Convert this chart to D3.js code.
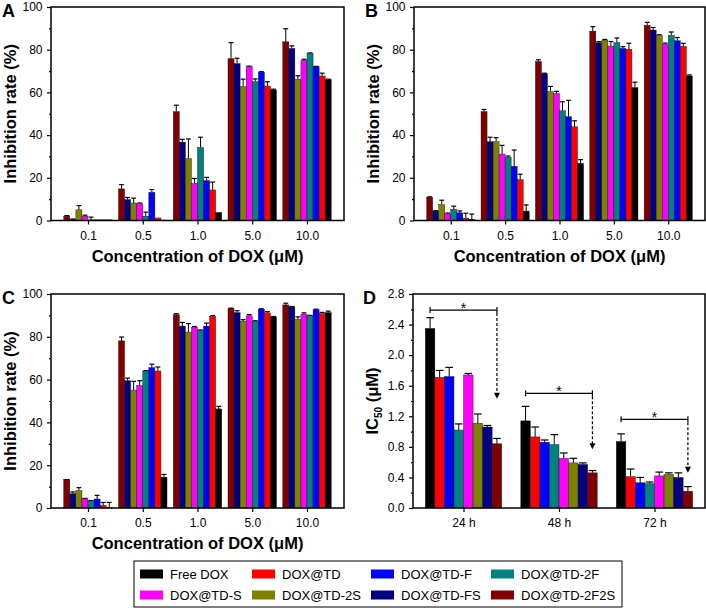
<!DOCTYPE html>
<html>
<head>
<meta charset="utf-8">
<script src="https://cdn.jsdelivr.net/npm/d3@7"></script>
<style>
  body { margin: 0; background: #fff; }
  svg { font-family: Arial, 'Liberation Sans', sans-serif; }
</style>
</head>
<body>
<div id="chart"></div>
<script>
// categories / series
const concentrations = ['0.1', '0.5', '1.0', '5.0', '10.0'];
const timePoints = ['24 h', '48 h', '72 h'];
const seriesNames = ['Free DOX', 'DOX@TD', 'DOX@TD-F', 'DOX@TD-2F', 'DOX@TD-S', 'DOX@TD-2S', 'DOX@TD-FS', 'DOX@TD-2F2S'];
// bar order used in panels A-C (reversed)
const inhibitionOrder = ['DOX@TD-2F2S', 'DOX@TD-FS', 'DOX@TD-2S', 'DOX@TD-S', 'DOX@TD-2F', 'DOX@TD-F', 'DOX@TD', 'Free DOX'];

// panel A, rows follow inhibitionOrder, columns follow concentrations
const inhibitionA = [
  [2.0, 14.8, 51.0, 75.8, 83.7],
  [0.5, 9.8, 36.7, 73.5, 80.6],
  [5.0, 8.2, 29.0, 62.7, 66.2],
  [2.0, 7.9, 17.4, 72.0, 75.0],
  [0.3, 2.0, 34.2, 65.0, 78.3],
  [0.3, 13.2, 18.7, 69.5, 72.0],
  [0.3, 1.2, 14.3, 63.0, 67.7],
  [0.3, 0.2, 3.8, 61.2, 66.0]
];
const errorA = [
  [0.3, 2.0, 3.0, 7.5, 6.1],
  [0.2, 1.0, 1.3, 2.5, 1.2],
  [2.0, 2.3, 9.2, 3.5, 1.6],
  [0.5, 0.3, 2.3, 0.3, 0.5],
  [1.3, 1.9, 4.8, 1.3, 0.2],
  [0, 1.3, 1.5, 0.2, 0.2],
  [0, 0, 3.7, 2.0, 1.3],
  [0, 0, 0, 0.3, 0.2]
];

const inhibitionB = [
  [10.9, 51.0, 74.5, 88.7, 91.4],
  [4.4, 36.9, 68.8, 83.3, 89.2],
  [7.5, 36.9, 60.4, 84.5, 86.7],
  [3.1, 31.1, 59.5, 81.7, 82.5],
  [5.3, 29.6, 51.4, 83.3, 86.7],
  [3.6, 25.4, 48.6, 80.6, 84.2],
  [1.1, 19.1, 43.9, 80.2, 81.6],
  [0.6, 4.4, 26.8, 62.3, 67.7]
];
const errorB = [
  [0.2, 1.0, 0.8, 2.1, 1.4],
  [0.2, 2.1, 0.2, 0.5, 1.2],
  [2.0, 1.9, 2.4, 0.3, 0.3],
  [0.4, 4.1, 1.0, 2.1, 0.6],
  [1.4, 0.6, 4.2, 2.2, 1.6],
  [0.9, 7.6, 7.7, 0.8, 1.5],
  [2.3, 2.6, 2.8, 2.8, 1.4],
  [2.4, 2.9, 1.7, 2.5, 0.5]
];

const inhibitionC = [
  [13.2, 78.1, 90.3, 93.2, 94.9],
  [6.7, 59.5, 85.0, 91.3, 94.0],
  [8.1, 55.1, 82.2, 87.3, 88.2],
  [4.3, 57.3, 84.5, 89.8, 90.6],
  [3.3, 64.0, 83.0, 87.3, 89.8],
  [4.2, 65.6, 85.0, 92.9, 92.7],
  [1.2, 64.0, 89.6, 91.2, 90.9],
  [0.3, 14.4, 46.3, 89.3, 91.3]
];
const errorC = [
  [0.1, 1.8, 0.5, 0.2, 0.8],
  [0.8, 1.2, 1.7, 0.9, 0.2],
  [1.4, 4.1, 4.0, 0.7, 1.1],
  [0.2, 2.2, 0.3, 0.6, 0.6],
  [0.2, 0.2, 0.2, 0.2, 0.2],
  [1.7, 1.6, 1.4, 0.2, 0.2],
  [1.4, 1.9, 0.3, 0.6, 0.5],
  [2.3, 1.3, 1.2, 0.2, 0.7]
];

// panel D, rows follow seriesNames, columns follow timePoints
const ic50 = [
  [2.35, 1.14, 0.87],
  [1.71, 0.93, 0.41],
  [1.72, 0.86, 0.33],
  [1.02, 0.83, 0.32],
  [1.74, 0.65, 0.42],
  [1.11, 0.59, 0.44],
  [1.06, 0.57, 0.40],
  [0.84, 0.46, 0.22]
];
const ic50Error = [
  [0.14, 0.19, 0.10],
  [0.09, 0.13, 0.10],
  [0.12, 0.03, 0.07],
  [0.08, 0.13, 0.02],
  [0.02, 0.07, 0.05],
  [0.12, 0.06, 0.02],
  [0.02, 0.02, 0.06],
  [0.07, 0.03, 0.06]
];
const sigBracketY = [2.59, 1.50, 1.16];
const sigArrowY = [1.43, 0.77, 0.46];

const inhibitionTicks = [0, 20, 40, 60, 80, 100];
const ic50Ticks = [0, 0.4, 0.8, 1.2, 1.6, 2.0, 2.4, 2.8];

const colors = {
  'Free DOX': '#000000',
  'DOX@TD': '#ff0000',
  'DOX@TD-F': '#0000ff',
  'DOX@TD-2F': '#008080',
  'DOX@TD-S': '#ff00ff',
  'DOX@TD-2S': '#808000',
  'DOX@TD-FS': '#000080',
  'DOX@TD-2F2S': '#800000'
};

const svg = d3.select('#chart')
  .append('svg')
  .attr('width', 706)
  .attr('height', 608);

function drawFrame(g, x0, y0, x1, y1) {
  g.append('rect')
    .attr('x', x0).attr('y', y0)
    .attr('width', x1 - x0).attr('height', y1 - y0)
    .attr('fill', 'none')
    .attr('stroke', '#000')
    .attr('stroke-width', 1.5);
}

function styleAxis(axisG) {
  axisG.select('.domain').remove();
  axisG.selectAll('line').attr('stroke', '#000').attr('stroke-width', 1.2);
  axisG.selectAll('text').attr('fill', '#000').attr('font-size', 12);
}

function drawYAxis(g, y, left, ticks, minor, fmt) {
  const ax = g.append('g')
    .attr('transform', `translate(${left},0)`)
    .call(d3.axisLeft(y).tickValues(ticks).tickSize(4).tickPadding(4.5).tickFormat(fmt));
  styleAxis(ax);
  const mx = g.append('g')
    .attr('transform', `translate(${left},0)`)
    .call(d3.axisLeft(y).tickValues(minor).tickSize(2).tickFormat(''));
  styleAxis(mx);
}

function drawBars(g, x, y, cats, order, values, errors, groupFrac) {
  const groupW = x.step() * groupFrac;
  const inner = d3.scaleBand().domain(order).range([-groupW / 2, groupW / 2]);
  const bw = inner.bandwidth();

  order.forEach((name, si) => {
    cats.forEach((c, ci) => {
      const v = values[si][ci];
      const e = errors[si][ci];
      const bx = x(c) + inner(name);
      const cx = bx + bw / 2;
      if (e > 0) {
        g.append('line')
          .attr('x1', cx).attr('x2', cx)
          .attr('y1', y(v)).attr('y2', y(v + e))
          .attr('stroke', '#000').attr('stroke-width', 1);
        g.append('line')
          .attr('x1', cx - bw * 0.4).attr('x2', cx + bw * 0.4)
          .attr('y1', y(v + e)).attr('y2', y(v + e))
          .attr('stroke', '#000').attr('stroke-width', 1.2);
      }
      g.append('rect')
        .attr('x', bx)
        .attr('y', y(v))
        .attr('width', bw)
        .attr('height', y(0) - y(v))
        .attr('fill', colors[name])
        .attr('stroke', '#111')
        .attr('stroke-width', 0.4);
    });
  });
  return inner;
}

function drawInhibitionPanel(letter, values, errors, left, top, right, bottom) {
  const g = svg.append('g');
  const x = d3.scalePoint().domain(concentrations).range([left, right]).padding(0.676);
  const y = d3.scaleLinear().domain([0, 100]).range([bottom, top]);

  drawBars(g, x, y, concentrations, inhibitionOrder, values, errors, 0.886);

  drawYAxis(g, y, left, inhibitionTicks, [10, 30, 50, 70, 90], d3.format('d'));
  const xa = g.append('g')
    .attr('transform', `translate(0,${bottom})`)
    .call(d3.axisBottom(x).tickSize(4).tickPadding(6.5));
  styleAxis(xa);
  drawFrame(g, left, top, right, bottom);

  g.append('text')
    .attr('x', (left + right) / 2)
    .attr('y', bottom + 41)
    .attr('text-anchor', 'middle')
    .attr('font-weight', 'bold')
    .attr('font-size', 16.5)
    .text('Concentration of DOX (μM)');

  g.append('text')
    .attr('transform', `translate(${left - 35},${(top + bottom) / 2}) rotate(-90)`)
    .attr('text-anchor', 'middle')
    .attr('font-weight', 'bold')
    .attr('font-size', 16.5)
    .text('Inhibition rate (%)');

  g.append('text')
    .attr('x', left - 49)
    .attr('y', Math.max(top + 9.5, 15))
    .attr('font-weight', 'bold')
    .attr('font-size', 18)
    .text(letter);
}

function drawIC50Panel(left, top, right, bottom) {
  const g = svg.append('g');
  const x = d3.scalePoint().domain(timePoints).range([left, right]).padding(0.529);
  const y = d3.scaleLinear().domain([0, 2.8]).range([bottom, top]);

  const inner = drawBars(g, x, y, timePoints, seriesNames, ic50, ic50Error, 0.8);
  const bw = inner.bandwidth();

  drawYAxis(g, y, left, ic50Ticks, [0.2, 0.6, 1.0, 1.4, 1.8, 2.2, 2.6], d3.format('.1f'));
  const xa = g.append('g')
    .attr('transform', `translate(0,${bottom})`)
    .call(d3.axisBottom(x).tickSize(4).tickPadding(6.5));
  styleAxis(xa);
  drawFrame(g, left, top, right, bottom);

  // significance brackets with dashed arrows
  timePoints.forEach((t, i) => {
    const xa0 = x(t) + inner(seriesNames[0]) + bw / 2;
    const xa1 = x(t) + inner(seriesNames[seriesNames.length - 1]) + bw / 2;
    const by = y(sigBracketY[i]);
    const ay = y(sigArrowY[i]);
    g.append('line')
      .attr('x1', xa0).attr('x2', xa1).attr('y1', by).attr('y2', by)
      .attr('stroke', '#000').attr('stroke-width', 1.2);
    [xa0, xa1].forEach(xx => {
      g.append('line')
        .attr('x1', xx).attr('x2', xx).attr('y1', by - 3).attr('y2', by + 3)
        .attr('stroke', '#000').attr('stroke-width', 1.2);
    });
    g.append('line')
      .attr('x1', xa1).attr('x2', xa1).attr('y1', by + 3).attr('y2', ay - 5)
      .attr('stroke', '#000').attr('stroke-width', 1.2)
      .attr('stroke-dasharray', '3,2');
    g.append('path')
      .attr('d', `M${xa1 - 3},${ay - 6}L${xa1 + 3},${ay - 6}L${xa1},${ay}Z`)
      .attr('fill', '#000');
    g.append('text')
      .attr('x', (xa0 + xa1) / 2)
      .attr('y', by + 3)
      .attr('text-anchor', 'middle')
      .attr('font-size', 14)
      .text('*');
  });

  const yt = g.append('text')
    .attr('transform', `translate(${left - 35},${(top + bottom) / 2}) rotate(-90)`)
    .attr('text-anchor', 'middle')
    .attr('font-weight', 'bold')
    .attr('font-size', 16.5);
  yt.append('tspan').text('IC');
  yt.append('tspan').attr('font-size', 10).attr('dy', 4).text('50');
  yt.append('tspan').attr('dy', -4).text(' (μM)');

  g.append('text')
    .attr('x', left - 50)
    .attr('y', top + 9.5)
    .attr('font-weight', 'bold')
    .attr('font-size', 18)
    .text('D');
}

function drawLegend() {
  const lx = 134, ly = 561;
  const colX = [6, 118, 237, 357];
  const g = svg.append('g').attr('transform', `translate(${lx},${ly})`);
  g.append('rect')
    .attr('width', 488).attr('height', 46)
    .attr('fill', 'none').attr('stroke', '#000').attr('stroke-width', 1);

  seriesNames.forEach((name, i) => {
    const item = g.append('g')
      .attr('transform', `translate(${colX[i % 4]},${i < 4 ? 13 : 34})`);
    item.append('rect')
      .attr('x', 0).attr('y', -4.5)
      .attr('width', 23).attr('height', 9)
      .attr('fill', colors[name]);
    item.append('text')
      .attr('x', 30).attr('y', 0)
      .attr('dy', '0.35em')
      .attr('font-size', 13)
      .text(name);
  });
}

drawInhibitionPanel('A', inhibitionA, errorA, 51, 7, 344, 220.5);
drawInhibitionPanel('B', inhibitionB, errorB, 414, 7, 705, 220.5);
drawInhibitionPanel('C', inhibitionC, errorC, 51, 294, 344, 508);
drawIC50Panel(413, 294, 705, 508);
drawLegend();
</script>
</body>
</html>
